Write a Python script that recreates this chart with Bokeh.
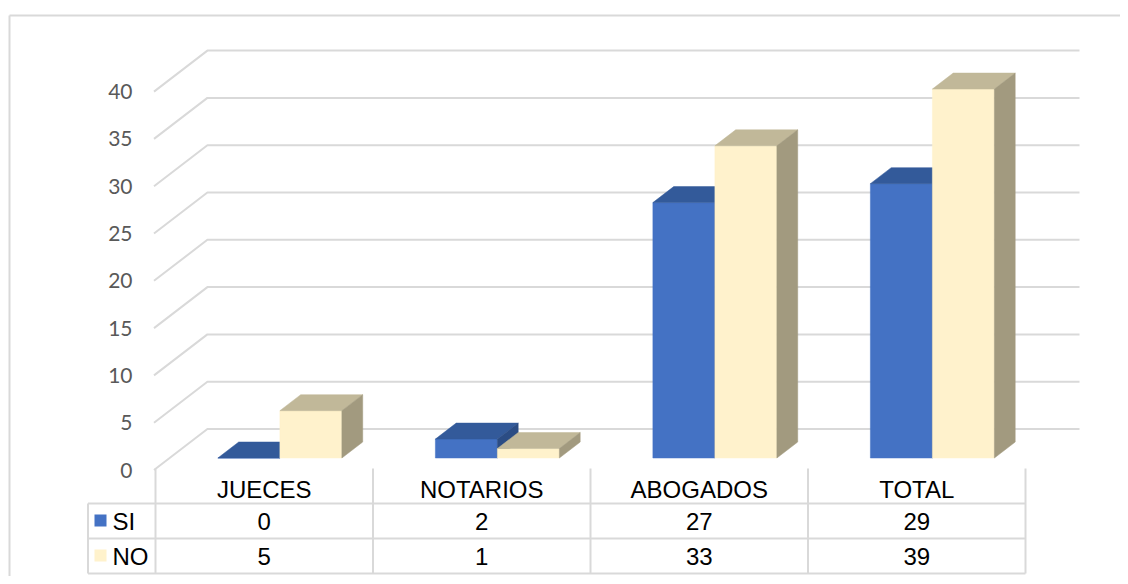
from bokeh.plotting import figure
from bokeh.models import Range1d
from bokeh.core.properties import value
from bokeh.embed import file_html
from bokeh.resources import INLINE

# ---------------- data ----------------
categories = ["JUECES", "NOTARIOS", "ABOGADOS", "TOTAL"]
series_names = ["SI", "NO"]
si_values = [0, 2, 27, 29]
no_values = [5, 1, 33, 39]
y_ticks = [0, 5, 10, 15, 20, 25, 30, 35, 40]

# ---------------- layout constants (page pixels) ----------------
W, H = 1120, 576
Y0 = 469.5          # page y of the front-wall zero level
S = 9.46            # pixels per value unit


def uy(py):
    """page y pixel -> value units"""
    return (Y0 - py) / S


p = figure(width=W, height=H, x_range=Range1d(0, W),
           y_range=Range1d(uy(H), uy(0)),
           output_backend="svg", toolbar_location=None,
           x_axis_type=None, y_axis_type=None, min_border=0,
           outline_line_color=None, background_fill_color="white",
           border_fill_color="white")
p.grid.grid_line_color = None

GRID = "#D9D9D9"

# outer chart border (only top/left visible in the frame)
p.multi_line(xs=[[9, 9], [9, 1140]], ys=[[uy(600), uy(15)], [uy(15), uy(15)]],
             line_color=GRID, line_width=2)

# 3D projection
WALL_X0 = 153.5           # front-left corner x of the wall
DXB = 53.4                # x shift from front to back wall
DYB = 41.0 / S            # y shift (units) from front to back wall
BACK_X1 = 1079.0
d0, d1 = 12.0 / 41.0, 28.0 / 41.0   # bar front / back depth

# gridlines on back wall and left wall
gx, gy = [], []
for t in y_ticks:
    gx.append([WALL_X0, WALL_X0 + DXB, BACK_X1])
    gy.append([t, t + DYB, t + DYB])
p.multi_line(xs=gx, ys=gy, line_color=GRID, line_width=2)

# axis tick labels
p.text(x=[132] * len(y_ticks), y=y_ticks, text=[str(t) for t in y_ticks],
       text_align="right", text_baseline="middle",
       text_font=value("Lato"), text_font_size="21px", text_color="#595959")

# table columns
COL_X0 = 155.0
COL_W = 217.5
BW = 62.0


def box(x0, x1, v):
    sx0, sx1 = DXB * d0, DXB * d1
    b0, b1 = DYB * d0, DYB * d1
    front = ([x0 + sx0, x1 + sx0, x1 + sx0, x0 + sx0], [b0, b0, b0 + v, b0 + v])
    top = ([x0 + sx0, x1 + sx0, x1 + sx1, x0 + sx1], [b0 + v, b0 + v, b1 + v, b1 + v])
    side = ([x1 + sx0, x1 + sx1, x1 + sx1, x1 + sx0], [b0, b1, b1 + v, b0 + v])
    return front, top, side


series = [
    (si_values, -1, ("#4472C4", "#335A9A", "#2B4C84")),
    (no_values, 0, ("#FFF2CC", "#C1B899", "#A29A7F")),
]

for i, cat in enumerate(categories):
    c = COL_X0 + COL_W * (i + 0.5)
    for vals, off, cols in series:
        x0 = c + off * BW
        x1 = x0 + BW
        faces = box(x0, x1, vals[i])
        for (fx, fy), col in zip(faces, cols):
            p.patch(x=fx, y=fy, fill_color=col, line_color=col, line_width=0.5)

# ---------------- data table ----------------
T_TOP, R1, R2, R3 = 468.0, 503.0, 538.0, 573.0
LEG_X0 = 87.5
ncol = len(categories)
lx, ly = [], []
for k in range(ncol + 1):
    xk = COL_X0 + COL_W * k
    lx.append([xk, xk])
    ly.append([uy(T_TOP), uy(R3)])
lx.append([LEG_X0, LEG_X0])
ly.append([uy(R1), uy(R3)])
for r in (R1, R2, R3):
    lx.append([LEG_X0, COL_X0 + COL_W * ncol])
    ly.append([uy(r), uy(r)])
p.multi_line(xs=lx, ys=ly, line_color=GRID, line_width=2)

centers = [COL_X0 + COL_W * (i + 0.5) for i in range(ncol)]
FONT = value("Liberation Sans")
p.text(x=centers, y=[uy(489)] * ncol, text=categories, text_align="center",
       text_baseline="middle", text_font=FONT, text_font_size="24px", text_color="black")
p.text(x=centers, y=[uy(521)] * ncol, text=[str(v) for v in si_values], text_align="center",
       text_baseline="middle", text_font=FONT, text_font_size="24px", text_color="black")
p.text(x=centers, y=[uy(556)] * ncol, text=[str(v) for v in no_values], text_align="center",
       text_baseline="middle", text_font=FONT, text_font_size="24px", text_color="black")

# legend keys inside the table
p.quad(left=[94, 94], right=[106, 106], top=[uy(514), uy(549)], bottom=[uy(526), uy(561)],
       fill_color=["#4472C4", "#FFF2CC"], line_color=None)
p.text(x=[112, 112], y=[uy(521), uy(556)], text=series_names, text_align="left",
       text_baseline="middle", text_font=FONT, text_font_size="24px", text_color="black")

open("out.html", "w").write(file_html(p, INLINE))
